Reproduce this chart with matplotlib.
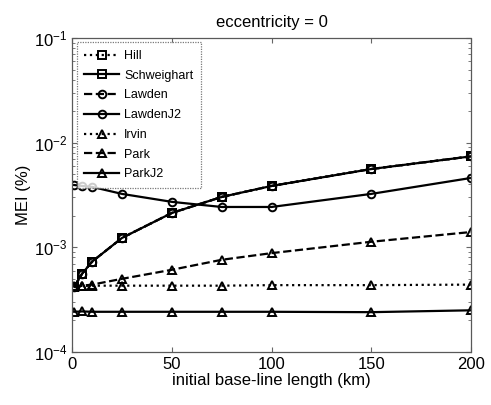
import matplotlib
matplotlib.use('Agg')
import matplotlib.pyplot as plt
import numpy as np

plt.rcParams['font.family'] = ['Liberation Sans', 'DejaVu Sans']

# comprimentos de linha de base (km)
baseline = [1, 5, 10, 25, 50, 75, 100, 150, 200]

# MEI (%) para cada modelo
hill = [4.2e-4, 5.6e-4, 7.3e-4, 1.23e-3, 2.13e-3, 3.03e-3, 3.86e-3, 5.6e-3, 7.4e-3]
schweighart = [4.2e-4, 5.6e-4, 7.3e-4, 1.23e-3, 2.13e-3, 3.03e-3, 3.86e-3, 5.6e-3, 7.4e-3]
lawden = [4.2e-4, 5.6e-4, 7.3e-4, 1.23e-3, 2.13e-3, 3.03e-3, 3.86e-3, 5.6e-3, 7.4e-3]
lawden_j2 = [3.94e-3, 3.86e-3, 3.78e-3, 3.24e-3, 2.72e-3, 2.43e-3, 2.43e-3, 3.24e-3, 4.6e-3]
irvin = [4.25e-4, 4.28e-4, 4.3e-4, 4.3e-4, 4.3e-4, 4.3e-4, 4.35e-4, 4.35e-4, 4.4e-4]
park = [4.2e-4, 4.3e-4, 4.4e-4, 5.0e-4, 6.1e-4, 7.6e-4, 8.8e-4, 1.13e-3, 1.4e-3]
park_j2 = [2.42e-4, 2.44e-4, 2.42e-4, 2.42e-4, 2.42e-4, 2.42e-4, 2.42e-4, 2.4e-4, 2.5e-4]

series = [
    ('Hill', hill, ':', 's'),
    ('Schweighart', schweighart, '-', 's'),
    ('Lawden', lawden, '--', 'o'),
    ('LawdenJ2', lawden_j2, '-', 'o'),
    ('Irvin', irvin, ':', '^'),
    ('Park', park, '--', '^'),
    ('ParkJ2', park_j2, '-', '^'),
]

fig = plt.figure(figsize=(4.91, 4.05), dpi=100)
ax = fig.add_axes([0.147, 0.131, 0.812, 0.775])

for nome, vals, ls, mk in series:
    ax.semilogy(baseline, vals, linestyle=ls, marker=mk, color='k', lw=1.6,
                markersize=5.5, markerfacecolor='none', markeredgewidth=1.4,
                label=nome)

ax.set_xlim(0, 200)
ax.set_ylim(1e-4, 1e-1)
ax.set_xticks([0, 50, 100, 150, 200])
ax.tick_params(which='both', direction='in', top=True, right=True,
               labelsize=12, color='0.4')
ax.tick_params(which='minor', length=2)

for s in ax.spines.values():
    s.set_linestyle((0, (1, 1)))
    s.set_color('0.35')
    s.set_linewidth(0.9)

ax.set_title('eccentricity = 0', fontsize=12, pad=8)
ax.set_xlabel('initial base-line length (km)', fontsize=12, labelpad=1)
ax.set_ylabel('MEI (%)', fontsize=12, labelpad=2)

leg = ax.legend(loc='upper left', fontsize=9, handlelength=2.8,
                labelspacing=0.62, borderaxespad=0.35, fancybox=False,
                handletextpad=0.4, borderpad=0.6)
leg.get_frame().set_edgecolor('0.35')
leg.get_frame().set_linestyle((0, (1, 1)))
leg.get_frame().set_linewidth(0.9)

plt.savefig('out.png', dpi=100)
